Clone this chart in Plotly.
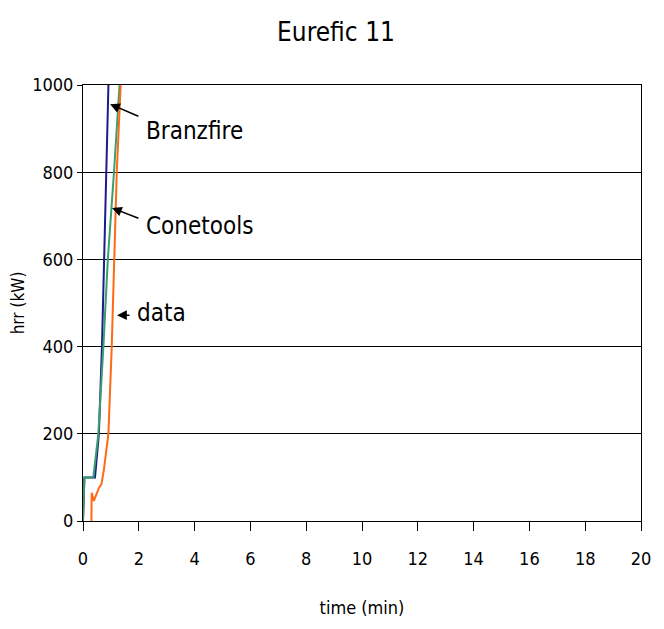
import plotly.graph_objects as go

# Eurefic 11 - heat release rate vs time
branz_t = [0.0, 0.05, 0.43, 0.57, 0.68, 0.76, 0.83, 0.91, 0.95]
branz_hrr = [0, 100, 100, 200, 400, 600, 800, 1000, 1100]

cone_t = [0.0, 0.05, 0.37, 0.55, 0.73, 0.89, 1.11, 1.31, 1.38]
cone_hrr = [0, 100, 100, 200, 400, 600, 800, 1000, 1070]

data_t = [0.03, 0.30, 0.31, 0.39, 0.57, 0.66, 0.75, 0.91, 1.03, 1.11, 1.21, 1.35, 1.40]
data_hrr = [-8, -8, 65, 46, 76, 84, 118, 200, 400, 600, 800, 1000, 1070]

FONT = "DejaVu Sans Condensed, Liberation Sans Narrow, Liberation Sans, sans-serif"

fig = go.Figure()
fig.add_trace(go.Scatter(x=branz_t, y=branz_hrr, mode="lines", name="Branzfire",
                         line=dict(color="#1c1c8a", width=2)))
fig.add_trace(go.Scatter(x=cone_t, y=cone_hrr, mode="lines", name="Conetools",
                         line=dict(color="#3a9e6e", width=2)))
fig.add_trace(go.Scatter(x=data_t, y=data_hrr, mode="lines", name="data",
                         line=dict(color="#ff6a13", width=2)))

# label + arrow pairs: (text, text x, text y, head x, head y, tail x, tail y)
labels = [
    ("Branzfire", 2.2, 894, 0.97, 956, 2.04, 927),
    ("Conetools", 2.2, 677, 1.04, 718, 2.04, 693),
    ("data", 1.88, 477, 1.22, 472, 1.72, 472),
]
for txt, tx, ty, hx, hy, ax_, ay_ in labels:
    fig.add_annotation(x=hx, y=hy, ax=ax_, ay=ay_, axref="x", ayref="y",
                       text="", showarrow=True, arrowhead=2, arrowsize=1.3,
                       arrowwidth=1.5, arrowcolor="black")
    fig.add_annotation(x=tx, y=ty, text=txt, showarrow=False, xanchor="left",
                       font=dict(family=FONT, size=24, color="black", weight=300))

# page body has an 8px margin, so the figure is shifted by that amount
fig.update_layout(
    width=656, height=621,
    margin=dict(l=75, r=23, t=77, b=108),
    paper_bgcolor="white", plot_bgcolor="white",
    showlegend=False,
    font=dict(family=FONT, color="black"),
    title=dict(text="Eurefic 11", x=0.5, xanchor="center", y=0.962, yanchor="middle",
               font=dict(family=FONT, size=26, color="black", weight=300)),
)
fig.update_xaxes(
    range=[0, 20], dtick=2, tick0=0, automargin=False,
    showgrid=False, zeroline=False,
    showline=True, linecolor="black", linewidth=1, mirror=True,
    ticks="outside", ticklen=9, tickcolor="black",
    tickfont=dict(family=FONT, size=18),
    ticklabelstandoff=12,
    title=dict(text="time (min)", font=dict(family=FONT, size=18), standoff=33),
)
fig.update_yaxes(
    range=[0, 1000], dtick=200, automargin=False,
    showgrid=True, gridcolor="black", gridwidth=1, zeroline=False,
    showline=True, linecolor="black", linewidth=1, mirror=True,
    ticks="outside", ticklen=5, tickcolor="black",
    tickfont=dict(family=FONT, size=18),
    title=dict(text="hrr (kW)", font=dict(family=FONT, size=17), standoff=8),
)

fig.write_html("out.html")
